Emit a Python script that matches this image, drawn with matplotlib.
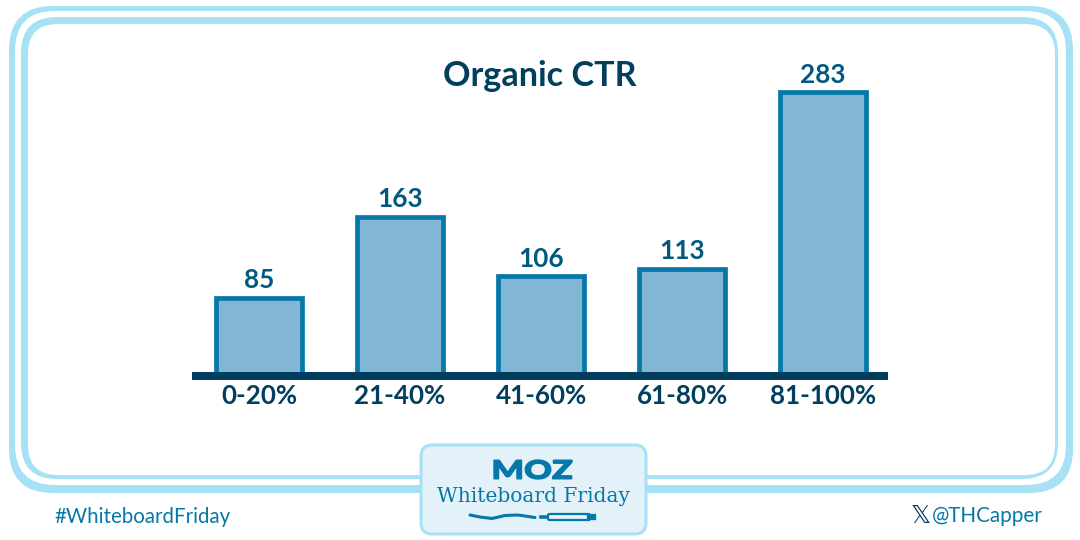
import matplotlib
matplotlib.use('Agg')
import matplotlib.pyplot as plt
from matplotlib.font_manager import FontProperties
from matplotlib.patches import FancyBboxPatch, PathPatch
from matplotlib.textpath import TextPath
from matplotlib.transforms import Affine2D

categories = ['0-20%', '21-40%', '41-60%', '61-80%', '81-100%']
values = [85, 163, 106, 113, 283]

RING = '#A6E1F6'
DARK = '#023F5E'
MID = '#02597F'
EDGE = '#0577A8'
FILL = '#81B7D4'
W, H = 1080, 540

plt.rcParams['font.family'] = ['Lato', 'DejaVu Sans']

fig = plt.figure(figsize=(W / 100, H / 100), dpi=100)

# background layer in pixels, y going down like the picture
bg = fig.add_axes([0, 0, 1, 1], zorder=0)
bg.set_xlim(0, W)
bg.set_ylim(H, 0)
bg.axis('off')


def box(ax, x0, y0, x1, y1, r, color, ec='none', lw=0, z=1):
    ax.add_patch(FancyBboxPatch((x0 + r, y0 + r), x1 - x0 - 2 * r, y1 - y0 - 2 * r,
                                boxstyle='round,pad=%s,rounding_size=%s' % (r, r),
                                fc=color, ec=ec, lw=lw, zorder=z))


# the two rings are nested filled boxes
box(bg, 9, 6, 1073, 493, 44, RING, z=1)
box(bg, 15, 11, 1066, 485, 40, 'white', z=2)
box(bg, 21, 17, 1058, 479, 36, RING, z=3)
box(bg, 28, 24, 1055, 475, 30, 'white', z=4)

# logo box
box(bg, 421, 445, 646, 534, 11, '#E3F2F9', ec=RING, lw=2.2, z=5)

# wide MOZ wordmark, stretched to fit 494-572
moz = TextPath((0, 0), 'MOZ', size=20, prop=FontProperties(family='Lato', weight='black'))
ext = moz.get_extents()
sx = 78 / ext.width
sy = 19 / ext.height
tr = Affine2D().translate(-ext.x0, -ext.y0).scale(sx, -sy).translate(494, 479)
bg.add_patch(PathPatch(tr.transform_path(moz), fc=EDGE, ec=EDGE, lw=1.0, zorder=6))

bg.text(533.5, 496, 'Whiteboard Friday', color=EDGE, fontsize=14.5, family='DejaVu Serif',
        ha='center', va='center', zorder=6)

# squiggle and marker under the logo
bg.plot([470, 480, 492, 505, 518, 535], [515, 517, 518.5, 515.5, 515, 517.5],
        color=EDGE, lw=2.2, zorder=6, solid_capstyle='round')
bg.plot([541, 548], [517, 517], color=EDGE, lw=2.6, zorder=6)
box(bg, 548, 514, 590, 520, 1.5, '#E3F2F9', ec=EDGE, lw=1.6, z=6)
bg.plot([590, 593], [517, 517], color=EDGE, lw=4.5, zorder=6)

# footer texts
bg.text(54, 517, '#WhiteboardFriday', color=EDGE, fontsize=14.8, ha='left', va='center', zorder=6)
bg.text(1043, 516, '@THCapper', color=EDGE, fontsize=14.9, ha='right', va='center', zorder=6)
bg.text(921, 516, '\U0001D54F', color=DARK, fontsize=18, family='DejaVu Sans',
        ha='center', va='center', zorder=6)

# chart layer, left 192 right 888, baseline at 376
ax = fig.add_axes([192 / W, 1 - 376 / H, 696 / W, 316 / H], zorder=1)
ax.patch.set_alpha(0)
x = list(range(len(categories)))
ax.bar(x, values, width=0.605, color=FILL, edgecolor=EDGE, linewidth=3.4)
ax.set_xlim(-0.475, 4.46)
ax.set_ylim(10, 10 + 316 / 1.04)

for xi, v in zip(x, values):
    ax.annotate(str(v), (xi, v), xytext=(0, 4), textcoords='offset points', ha='center', va='bottom',
                color=MID, fontsize=18.8, fontweight='bold', annotation_clip=False)

ax.set_xticks(x)
ax.set_xticklabels(categories, color=DARK, fontsize=18.7, fontweight='bold')
ax.tick_params(axis='x', length=0, pad=5.6)
ax.set_yticks([])
for s in ['top', 'left', 'right']:
    ax.spines[s].set_visible(False)
ax.spines['bottom'].set_color(DARK)
ax.spines['bottom'].set_linewidth(5.8)
ax.spines['bottom'].set_capstyle('butt')
ax.spines['bottom'].set_zorder(5)

bg.text(540, 75.5, 'Organic CTR', color=DARK, fontsize=24.6, fontweight='bold',
        ha='center', va='center', zorder=6)

fig.savefig('out.png', dpi=100)
